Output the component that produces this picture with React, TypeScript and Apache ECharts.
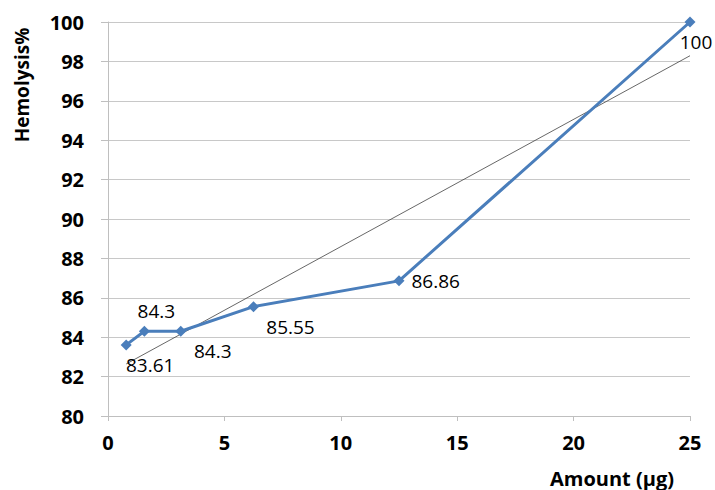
import React, { useEffect, useRef } from "react";
import * as echarts from "echarts";

const amounts = [0.78125, 1.5625, 3.125, 6.25, 12.5, 25];
const hemolysis = [83.61, 84.3, 84.3, 85.55, 86.86, 100];
const labelTexts = ["83.61", "84.3", "84.3", "85.55", "86.86", "100"];

function regression(xs: number[], ys: number[]) {
  const n = xs.length;
  const mx = xs.reduce((a, b) => a + b, 0) / n;
  const my = ys.reduce((a, b) => a + b, 0) / n;
  let sxy = 0, sxx = 0;
  for (let i = 0; i < n; i++) {
    sxy += (xs[i] - mx) * (ys[i] - my);
    sxx += (xs[i] - mx) * (xs[i] - mx);
  }
  const slope = sxy / sxx;
  return { slope, intercept: my - slope * mx };
}

export default function App() {
  const ref = useRef<HTMLDivElement>(null);
  useEffect(() => {
    if (!ref.current) return;
    const chart = echarts.init(ref.current, undefined, { renderer: "svg" });
    const { slope, intercept } = regression(amounts, hemolysis);
    const x0 = amounts[0];
    const x1 = amounts[amounts.length - 1];
    const trend = [
      [x0, intercept + slope * x0],
      [x1, intercept + slope * x1],
    ];
    const labelCfg: any[] = [
      { position: "bottom", offset: [24, 0] },
      { position: "top", offset: [12, 0] },
      { position: "bottom", offset: [32, 0] },
      { position: "bottom", offset: [37, 0] },
      { position: "right", offset: [2, 0] },
      { position: "bottom", offset: [6, 0] },
    ];
    const font = "'Open Sans', 'Noto Sans', sans-serif";
    chart.setOption({
      animation: false,
      backgroundColor: "#ffffff",
      grid: { left: 108, right: 25, top: 22, bottom: 74 },
      xAxis: {
        type: "value",
        min: 0,
        max: 25,
        interval: 5,
        axisLine: { show: true, lineStyle: { color: "#bfbfbf", width: 1 } },
        axisTick: { show: true, length: 5, lineStyle: { color: "#bfbfbf" } },
        splitLine: { show: false },
        axisLabel: {
          margin: 16,
          fontSize: 20,
          fontWeight: "bold",
          color: "#000",
          fontFamily: font,
        },
      },
      yAxis: {
        type: "value",
        min: 80,
        max: 100,
        interval: 2,
        axisLine: { show: true, lineStyle: { color: "#bfbfbf", width: 1 } },
        axisTick: { show: true, length: 7, lineStyle: { color: "#bfbfbf" } },
        splitLine: { show: true, lineStyle: { color: "#c8c8c8", width: 1 } },
        axisLabel: {
          margin: 24,
          fontSize: 20,
          fontWeight: "bold",
          color: "#000",
          fontFamily: font,
        },
      },
      graphic: [
        {
          type: "text",
          x: 22,
          y: 85,
          rotation: Math.PI / 2,
          style: {
            text: "Hemolysis%",
            fontSize: 19,
            fontWeight: "bold",
            fontFamily: font,
            fill: "#000",
            textAlign: "center",
            textVerticalAlign: "middle",
          },
        },
        {
          type: "text",
          x: 612,
          y: 478,
          style: {
            text: "Amount (μg)",
            fontSize: 20,
            fontWeight: "bold",
            fontFamily: font,
            fill: "#000",
            textAlign: "center",
            textVerticalAlign: "middle",
          },
        },
      ],
      series: [
        {
          type: "line",
          data: trend,
          symbol: "none",
          silent: true,
          lineStyle: { color: "#404040", width: 0.8 },
          z: 2,
        },
        {
          type: "line",
          data: amounts.map((x, i) => ({
            value: [x, hemolysis[i]],
            label: {
              show: true,
              formatter: labelTexts[i],
              ...labelCfg[i],
            },
          })),
          symbol: "diamond",
          symbolSize: 11,
          itemStyle: { color: "#4a7ebb" },
          lineStyle: { color: "#4a7ebb", width: 3 },
          label: {
            fontSize: 19,
            color: "#000",
            fontFamily: font,
            distance: 5,
          },
          z: 3,
        },
      ],
    });
    return () => chart.dispose();
  }, []);
  return (
    <div
      ref={ref}
      style={{ position: "fixed", left: 0, top: 0, width: 715, height: 490 }}
    />
  );
}
